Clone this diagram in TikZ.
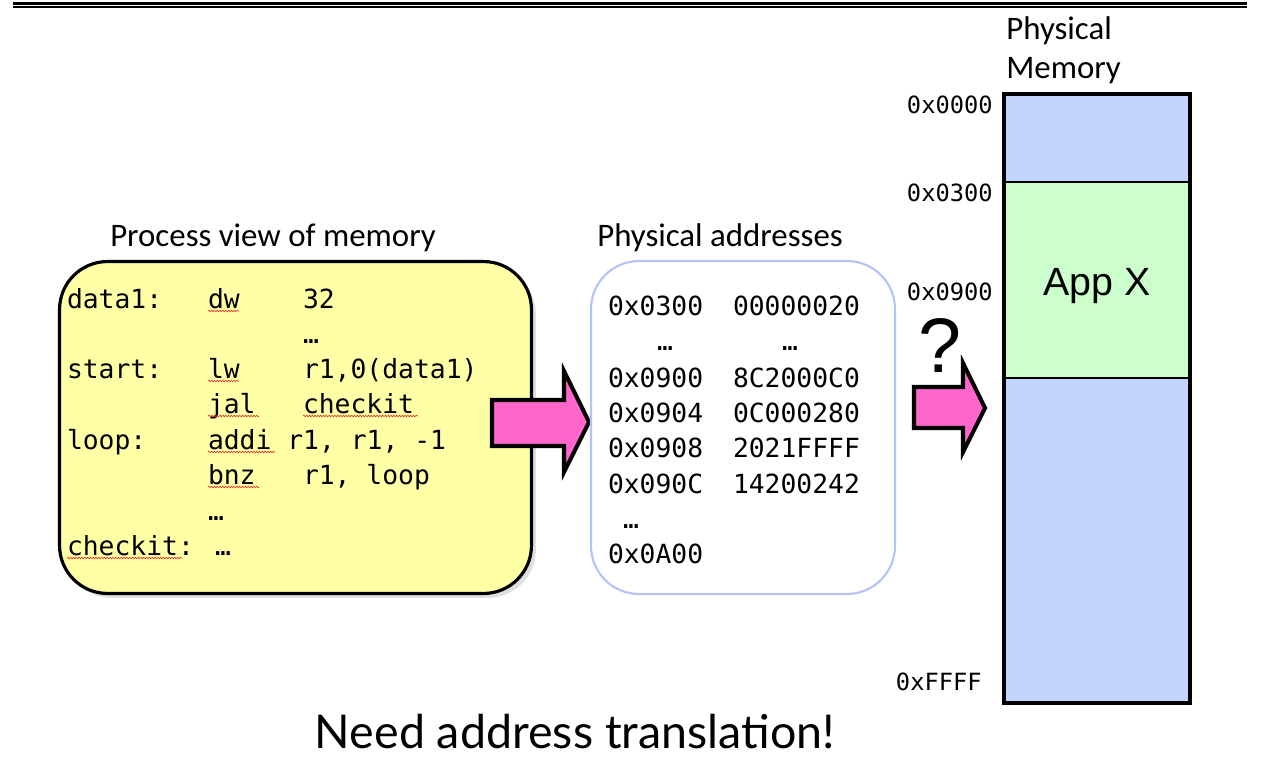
\documentclass[tikz,border=0pt]{standalone}
\usepackage{fontspec}
\setmainfont{Carlito}
\newfontfamily\codefont{DejaVu Sans Mono}
\newfontfamily\arialfont{Liberation Sans}
\newfontfamily\bigfont{Lato}
\usetikzlibrary{shadows,decorations.pathmorphing}
\definecolor{boxyellow}{HTML}{FFFFA6}
\definecolor{boxblue}{HTML}{B4C4F6}
\definecolor{memblue}{HTML}{C3D5FD}
\definecolor{memgreen}{HTML}{CCFFCC}
\definecolor{arrowpink}{HTML}{FF66CC}
\definecolor{squig}{HTML}{E03030}
\tikzset{
  code/.style={font=\codefont\fontsize{15}{18}\selectfont, anchor=base west, inner sep=0pt, outer sep=0pt},
  addrlbl/.style={font=\codefont\fontsize{13.5}{16}\selectfont, anchor=east, inner sep=0pt},
  title/.style={font=\fontsize{18.7}{22}\selectfont, inner sep=0pt},
  bigarrow/.style={draw=black, fill=arrowpink, line width=2.3pt, miter limit=10},
  region/.style={draw=black, line width=1.4pt, minimum width=3.72cm, inner sep=0pt, outer sep=0pt},
  wavy/.style={draw=squig, line width=0.35pt, decorate, decoration={snake, segment length=1.6pt, amplitude=0.45pt}}
}
\begin{document}
\begin{tikzpicture}[x=0.02cm,y=-0.02cm]
\useasboundingbox[fill=white] (0,0) rectangle (1280,764);
% top rule
\draw[line width=1.3pt] (13,3.5) -- (1247,3.5);
\draw[line width=0.6pt] (13,7) -- (1247,7);

% process view box
\node[title] (ptitle) at (273,238) {Process view of memory};
\node[draw=black, line width=1.8pt, fill=boxyellow, rounded corners=0.96cm,
      minimum width=9.44cm, minimum height=6.64cm,
      drop shadow={shadow xshift=2.5pt, shadow yshift=-2.5pt, opacity=0.25}] (pbox) at (295.5,427.5) {};

\node[code] (c1a) at (67,308) {data1:};
\node[code] (c1b) at (208,308) {dw};
\node[code] (c1c) at (303,308) {32};
\node[code] (c2c) at (303,343) {…};
\node[code] (c3a) at (67,378) {start:};
\node[code] (c3b) at (208,378) {lw};
\node[code] (c3c) at (303,378) {r1,0(data1)};
\node[code] (c4b) at (208,413) {jal};
\node[code] (c4c) at (303,413) {checkit};
\node[code] (c5a) at (67,449) {loop:};
\node[code] (c5b) at (208,449) {addi r1, r1, -1};
\node[code] (c6b) at (208,484) {bnz};
\node[code] (c6c) at (303,484) {r1, loop};
\node[code] (c7b) at (208,520) {…};
\node[code] (c8a) at (67,555) {checkit: …};

\draw[wavy] (208,311) -- (239,311);
\draw[wavy] (208,381) -- (239,381);
\draw[wavy] (208,416) -- (259,416);
\draw[wavy] (303,416) -- (418,416);
\draw[wavy] (208,452) -- (275,452);
\draw[wavy] (208,487) -- (259,487);
\draw[wavy] (67,558) -- (182,558);

% arrow 1
\draw[bigarrow] (492,400) -- (564,400) -- (564,371) -- (589,422) -- (564,472) -- (564,446) -- (492,446) -- cycle;

% physical addresses box
\node[title] (atitle) at (720,238) {Physical addresses};
\node[draw=boxblue, line width=1.2pt, fill=white, rounded corners=0.96cm,
      minimum width=6.08cm, minimum height=6.66cm] (abox) at (743,427.5) {};
\node[code] (a1) at (608,315) {0x0300};
\node[code] (b1) at (733,315) {00000020};
\node[code] (a2) at (657,350) {…};
\node[code] (b2) at (782,350) {…};
\node[code] (a3) at (608,387) {0x0900};
\node[code] (b3) at (733,387) {8C2000C0};
\node[code] (a4) at (608,422) {0x0904};
\node[code] (b4) at (733,422) {0C000280};
\node[code] (a5) at (608,457) {0x0908};
\node[code] (b5) at (733,457) {2021FFFF};
\node[code] (a6) at (608,493) {0x090C};
\node[code] (b6) at (733,493) {14200242};
\node[code] (a7) at (623,528) {…};
\node[code] (a8) at (608,563) {0x0A00};

% arrow 2 and question mark
\node[font=\arialfont\fontsize{44}{48}\selectfont, inner sep=0pt, anchor=base] (q) at (940,372) {?};
\draw[bigarrow] (914,387) -- (963,387) -- (963,363) -- (985,408) -- (963,452) -- (963,428) -- (914,428) -- cycle;

% physical memory
\node[font=\fontsize{18.7}{22}\selectfont, anchor=base west, inner sep=0pt] (pm1) at (1006,39) {Physical};
\node[font=\fontsize{18.7}{22}\selectfont, anchor=base west, inner sep=0pt] (pm2) at (1006,78) {Memory};
\node[region, fill=memblue, minimum height=1.76cm] (mtop) at (1097,138) {};
\node[region, fill=memgreen, minimum height=3.92cm] (mapp) at (1097,280) {};
\node[font=\arialfont\fontsize{22.4}{26}\selectfont, inner sep=0pt, text depth=0pt] (apptxt) at (1097,282) {App X};
\node[region, fill=memblue, minimum height=6.5cm] (mbot) at (1097,540.5) {};
\draw[line width=2.3pt] (mtop.north west) rectangle (mbot.south east);

\node[addrlbl] (l0) at (993,105) {0x0000};
\node[addrlbl] (l1) at (993,193) {0x0300};
\node[addrlbl] (l2) at (993,292) {0x0900};
\node[addrlbl] (l3) at (982,682) {0xFFFF};

% bottom caption
\node[font=\bigfont\fontsize{26.5}{30}\selectfont, inner sep=0pt] (cap) at (575,732) {Need address translation!};
\end{tikzpicture}
\end{document}
